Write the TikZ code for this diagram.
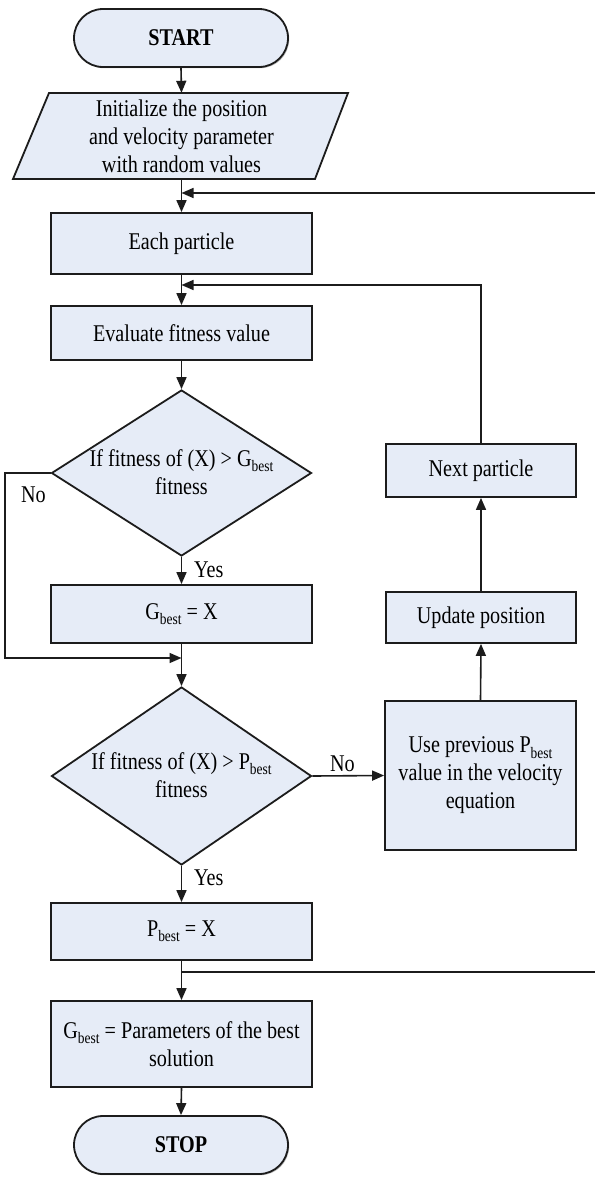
\documentclass[tikz,border=0pt]{standalone}
\usepackage{fontspec}
\setmainfont{Liberation Serif}[FakeStretch=0.84]
\usetikzlibrary{arrows.meta,shapes.geometric,shadows}
\definecolor{boxfill}{RGB}{230,236,247}
\definecolor{edge}{RGB}{28,28,28}
\newcommand\bst{\raisebox{-0.22em}{\fontsize{16}{16}\selectfont best}}
\begin{document}
\begin{tikzpicture}[x=1pt,y=-1pt,
  every node/.style={font=\fontsize{24}{28}\selectfont, text=black},
  box/.style={draw=edge, fill=boxfill, line width=1.8pt, rectangle, inner sep=0pt, align=center,
    drop shadow={shadow xshift=1.2pt, shadow yshift=-1.2pt, fill=gray!70, opacity=0.8}},
  term/.style={box, rounded corners=29pt},
  dia/.style={draw=edge, fill=boxfill, line width=1.8pt, diamond, inner sep=0pt},
  conn/.style={draw=edge, line width=1.6pt},
  arr/.style={conn, -{Triangle[length=12pt,width=10pt]}},
  lbl/.style={inner sep=0pt}]
\fill[white] (0,0) rectangle (595,1178);
\useasboundingbox (0,0) rectangle (595,1178);

% main column
\node[term, minimum width=214, minimum height=58] (start) at (181,38) {\textbf{START}};
\draw[draw=edge, fill=boxfill, line width=1.8pt] (13,179) -- (315,179) -- (348,93) -- (49,93) -- cycle;
\node[inner sep=0pt, minimum width=260, minimum height=86, align=center] (init) at (181.5,136)
  {Initialize the position\\and velocity parameter\\with random values};
\node[box, minimum width=261, minimum height=61] (each) at (181.5,243.5) {Each particle};
\node[box, minimum width=261, minimum height=54] (eval) at (181.5,333) {Evaluate fitness value};
\node[dia, minimum width=260, minimum height=166] (d1) at (181.5,473) {};
\node[inner sep=0pt, align=center] (d1t) at (181.5,472) {If fitness of (X) > G\bst\\fitness};
\node[box, minimum width=261, minimum height=58] (gb) at (181.5,614) {G\bst{} = X};
\node[dia, minimum width=260, minimum height=178] (d2) at (181.5,776) {};
\node[inner sep=0pt, align=center] (d2t) at (181.5,775) {If fitness of (X) > P\bst\\fitness};
\node[box, minimum width=261, minimum height=57] (pb) at (181.5,931.5) {P\bst{} = X};
\node[box, minimum width=261, minimum height=86] (gbp) at (181.5,1044)
  {G\bst{} = Parameters of the best\\solution};
\node[term, minimum width=214, minimum height=58] (stop) at (181,1145) {\textbf{STOP}};

% right column
\node[box, minimum width=190, minimum height=53] (next) at (481,470.5) {Next particle};
\node[box, minimum width=190, minimum height=51] (upd) at (481,617.5) {Update position};
\node[box, minimum width=191, minimum height=149, font=\fontsize{24}{28}\selectfont] (usep) at (480.5,775.5)
  {Use previous P\bst\\value in the velocity\\equation};

% labels
\node[lbl] (no1) at (33.5,495) {No};
\node[lbl, anchor=west] (yes1) at (194,570) {Yes};
\node[lbl] (no2) at (342.5,764) {No};
\node[lbl, anchor=west] (yes2) at (194,878) {Yes};

% junction coordinates
\coordinate (r1) at (595,193);
\coordinate (j1) at (181.5,193);
\coordinate (j2) at (181.5,285);
\coordinate (lx) at (5,473);
\coordinate (j3) at (181.5,658);
\coordinate (j4) at (181.5,972);
\coordinate (r4) at (595,972);

% connectors
\draw[arr] (start.south) -- (init.north);
\draw[arr] (init.south) -- (each.north);
\draw[arr] (r1) -- (j1);
\draw[arr] (each.south) -- (eval.north);
\draw[arr] (next.north) |- (j2);
\draw[arr] (eval.south) -- (d1.north);
\draw[arr] (d1.south) -- (gb.north);
\draw[arr] (d1.west) -- (lx) |- (j3);
\draw[arr] (gb.south) -- (d2.north);
\draw[arr] (d2.south) -- (pb.north);
\draw[arr] (d2.east) -- (usep.west);
\draw[arr] (usep.north) -- (upd.south);
\draw[arr] (upd.north) -- (next.south);
\draw[arr] (pb.south) -- (gbp.north);
\draw[conn] (j4) -- (r4);
\draw[arr] (gbp.south) -- (stop.north);
\end{tikzpicture}
\end{document}
